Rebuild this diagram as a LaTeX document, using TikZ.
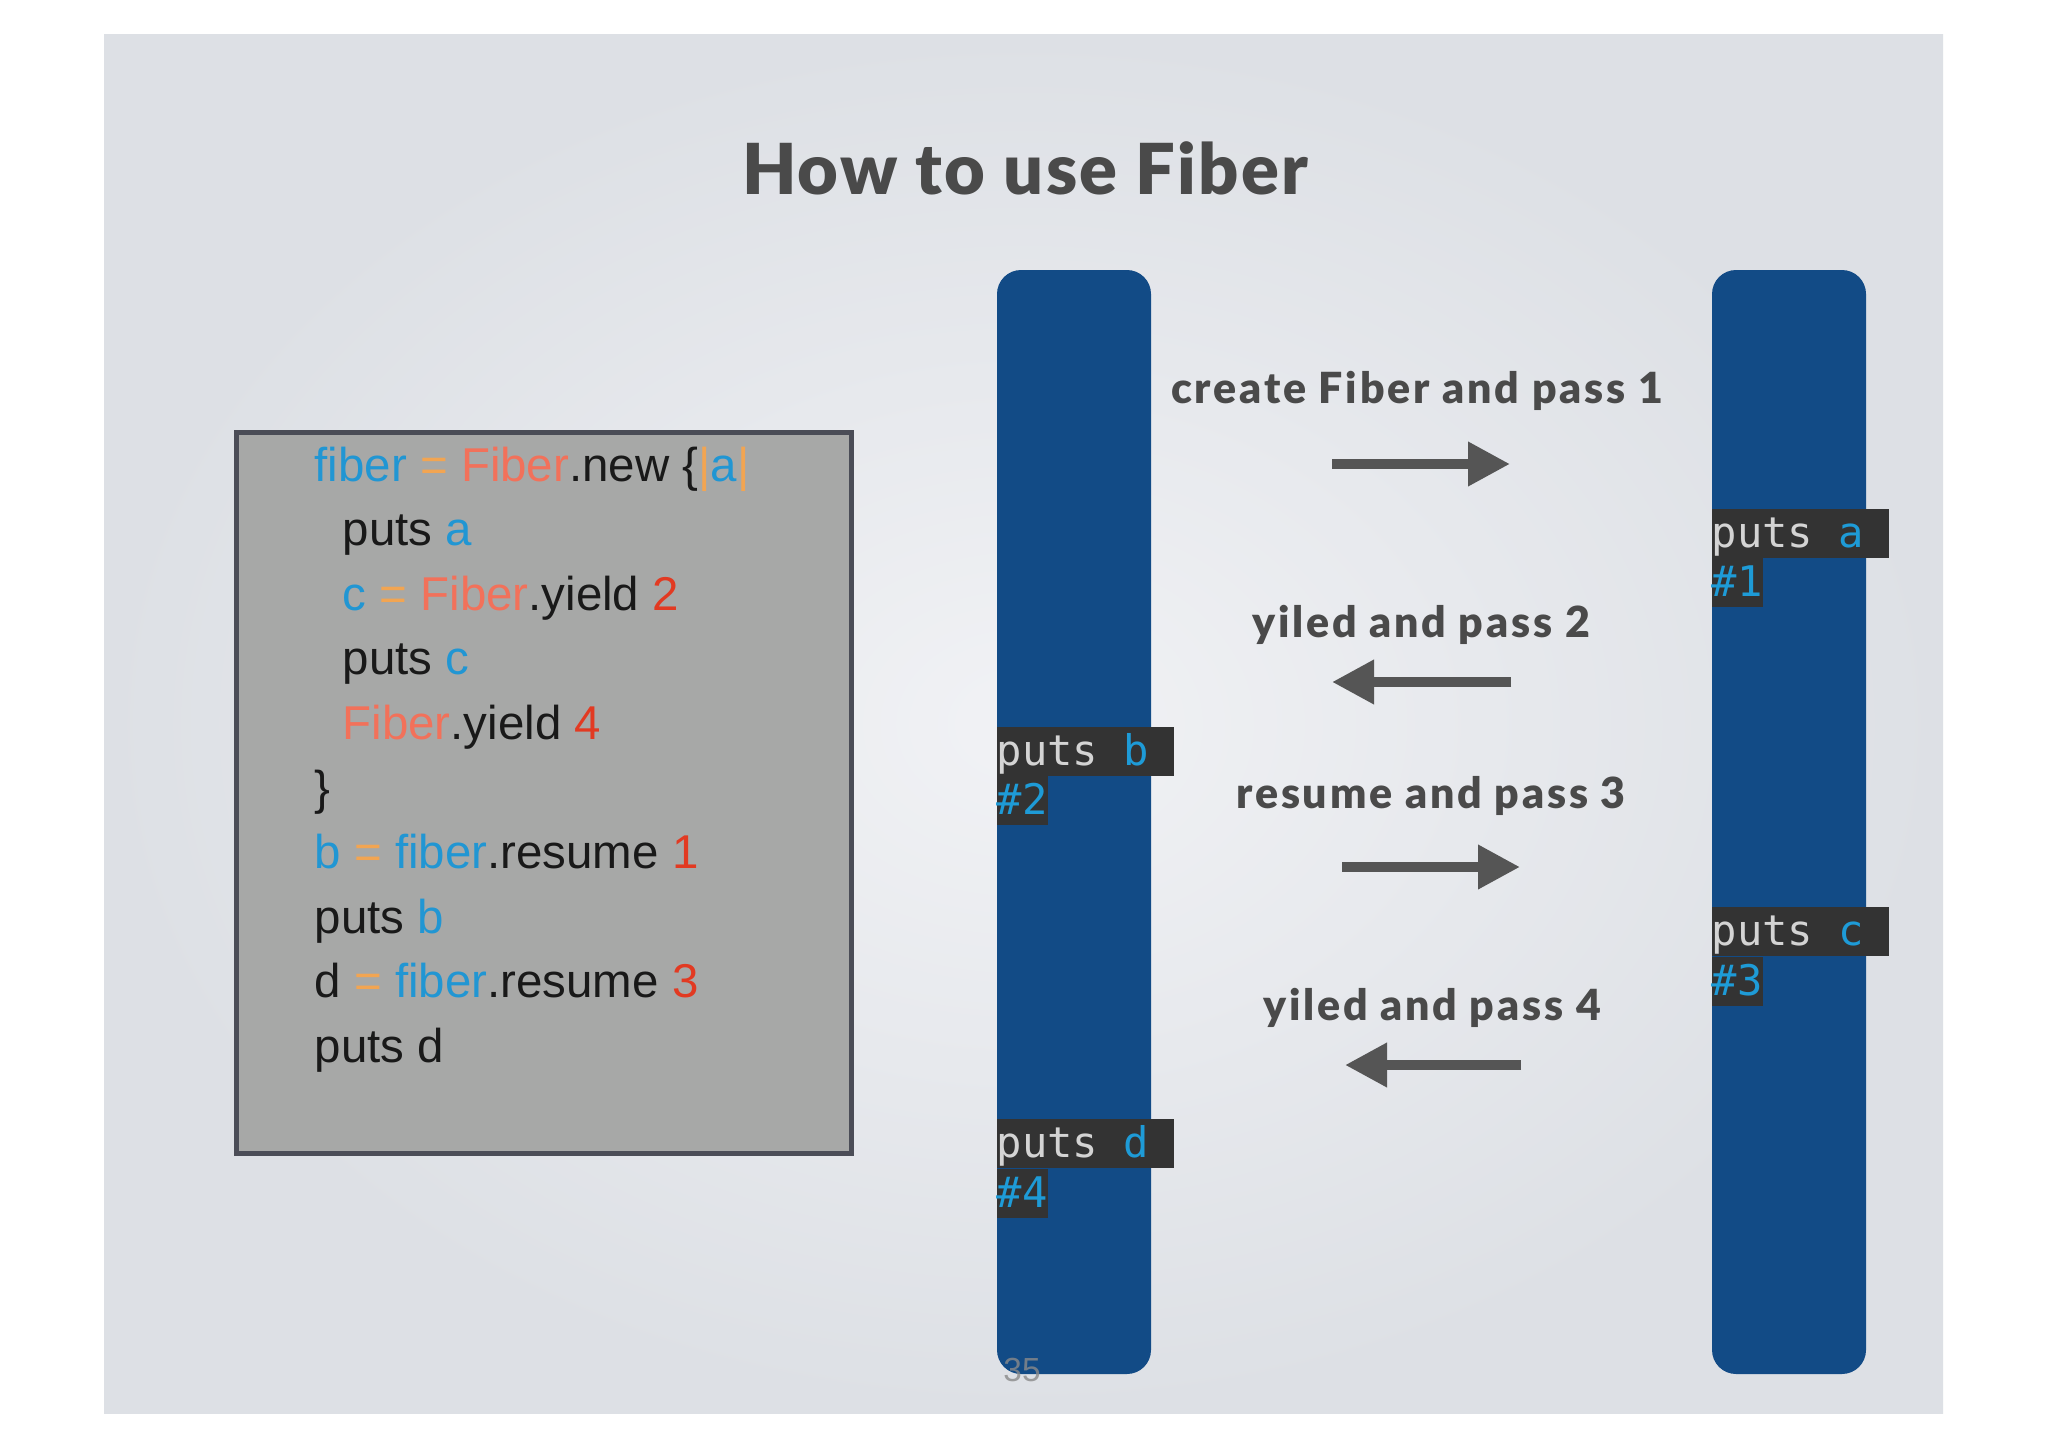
\documentclass[tikz,border=0pt]{standalone}
\usepackage{fontspec}
\setmainfont{Lato}
\newfontfamily\codefont{Liberation Sans}
\newfontfamily\monofont{DejaVu Sans Mono}
\IfFontExistsTF{Lato Black}{%
  \newfontfamily\heavyfont{Lato Black}[LetterSpace=3]%
  \newfontfamily\labelfont{Lato Black}[LetterSpace=6.5]%
  \newcommand\heavyon{\heavyfont}%
  \newcommand\labelon{\labelfont}}{%
  \newfontfamily\heavyfont{Lato}[LetterSpace=3]%
  \newfontfamily\labelfont{Lato}[LetterSpace=6.5]%
  \newcommand\heavyon{\heavyfont\bfseries}%
  \newcommand\labelon{\labelfont\bfseries}}
\usetikzlibrary{arrows.meta}
\definecolor{bgin}{HTML}{F1F2F5}
\definecolor{bgout}{HTML}{DDE0E5}
\definecolor{barblue}{HTML}{124B86}
\definecolor{boxgray}{HTML}{A7A8A7}
\definecolor{boxedge}{HTML}{4B4D57}
\definecolor{cblue}{HTML}{2196D3}
\definecolor{corange}{HTML}{F2A552}
\definecolor{csalmon}{HTML}{F2715A}
\definecolor{cred}{HTML}{E23A22}
\definecolor{lblbg}{HTML}{333333}
\definecolor{lblfg}{HTML}{D4D4D4}
\definecolor{lblblue}{HTML}{1E9BD7}
\definecolor{txtgray}{HTML}{4A4A4A}
\definecolor{arrowgray}{HTML}{555555}
\definecolor{pgray}{HTML}{8A8A8A}
\begin{document}
\begin{tikzpicture}[x=0.1mm,y=-0.1mm,
  bar/.style={fill=barblue, rounded corners=2.4mm, minimum width=15.4mm, minimum height=110.4mm, inner sep=0},
  codeline/.style={anchor=base west, inner sep=0, text=black!90, font=\codefont\fontsize{13.5}{16}\selectfont},
  lbl/.style={fill=lblbg, anchor=north west, inner xsep=0, inner ysep=0, text height=3.9mm, text depth=1.0mm, font=\monofont\fontsize{12}{14}\selectfont, text=lblfg},
  steplabel/.style={anchor=base, inner sep=0, text=txtgray, font=\labelon\fontsize{12.2}{14}\selectfont},
  flow/.style={draw=arrowgray, line width=1.0mm, -{Triangle[length=4.2mm,width=4.2mm]}},
]
\useasboundingbox (0,0) rectangle (2048,1448);
\fill[white] (0,0) rectangle (2048,1448);
\shade[inner color=bgin, outer color=bgout] (104,35) rectangle (1943,1413);

% title
\node (title) [anchor=base, inner sep=0, text=txtgray, font=\heavyon\fontsize{20}{24}\selectfont] at (1025,195) {How to use Fiber};

% code box
\node (codebox) [draw=boxedge, line width=0.5mm, fill=boxgray, minimum width=61.5mm, minimum height=72.1mm, inner sep=0] at (544,793) {};
\node (c1) [codeline] at (314,481) {\textcolor{cblue}{fiber} \textcolor{corange}{=} \textcolor{csalmon}{Fiber}.new \{\textcolor{corange}{|}\textcolor{cblue}{a}\textcolor{corange}{|}};
\node (c2) [codeline] at (342,545.6) {puts \textcolor{cblue}{a}};
\node (c3) [codeline] at (342,610.2) {\textcolor{cblue}{c} \textcolor{corange}{=} \textcolor{csalmon}{Fiber}.yield \textcolor{cred}{2}};
\node (c4) [codeline] at (342,674.8) {puts \textcolor{cblue}{c}};
\node (c5) [codeline] at (342,739.4) {\textcolor{csalmon}{Fiber}.yield \textcolor{cred}{4}};
\node (c6) [codeline] at (314,804) {\}};
\node (c7) [codeline] at (314,868.6) {\textcolor{cblue}{b} \textcolor{corange}{=} \textcolor{cblue}{fiber}.resume \textcolor{cred}{1}};
\node (c8) [codeline] at (314,933.2) {puts \textcolor{cblue}{b}};
\node (c9) [codeline] at (314,997.8) {d \textcolor{corange}{=} \textcolor{cblue}{fiber}.resume \textcolor{cred}{3}};
\node (c10) [codeline] at (314,1062.4) {puts d};

% bars
\node (barL) [bar] at (1074,822) {};
\node (barR) [bar] at (1789,822) {};

% labels on bars
\node (pa) [lbl] at (1711,508) {puts \textcolor{lblblue}{a}\hphantom{x}};
\node (n1) [lbl] at (1711,557) {\textcolor{lblblue}{\#1}};
\node (pb) [lbl] at (996,726) {puts \textcolor{lblblue}{b}\hphantom{x}};
\node (n2) [lbl] at (996,775) {\textcolor{lblblue}{\#2}};
\node (pc) [lbl] at (1711,906) {puts \textcolor{lblblue}{c}\hphantom{x}};
\node (n3) [lbl] at (1711,956) {\textcolor{lblblue}{\#3}};
\node (pd) [lbl] at (996,1118) {puts \textcolor{lblblue}{d}\hphantom{x}};
\node (n4) [lbl] at (996,1168) {\textcolor{lblblue}{\#4}};

% step labels
\node (s1) [steplabel] at (1417,403) {create Fiber and pass 1};
\node (s2) [steplabel] at (1421,637) {yiled and pass 2};
\node (s3) [steplabel] at (1431,808) {resume and pass 3};
\node (s4) [steplabel] at (1432,1020) {yiled and pass 4};

% arrows
\coordinate (a1s) at (1332,464); \coordinate (a1e) at (1510,464);
\coordinate (a2s) at (1511,682); \coordinate (a2e) at (1332,682);
\coordinate (a3s) at (1342,867); \coordinate (a3e) at (1520,867);
\coordinate (a4s) at (1521,1065); \coordinate (a4e) at (1345,1065);
\draw[flow] (a1s) -- (a1e);
\draw[flow] (a2s) -- (a2e);
\draw[flow] (a3s) -- (a3e);
\draw[flow] (a4s) -- (a4e);

% page number
\node (pnum) [text=pgray, opacity=0.8, font=\codefont\fontsize{9.5}{11}\selectfont] at (1022,1370) {35};
\end{tikzpicture}
\end{document}
